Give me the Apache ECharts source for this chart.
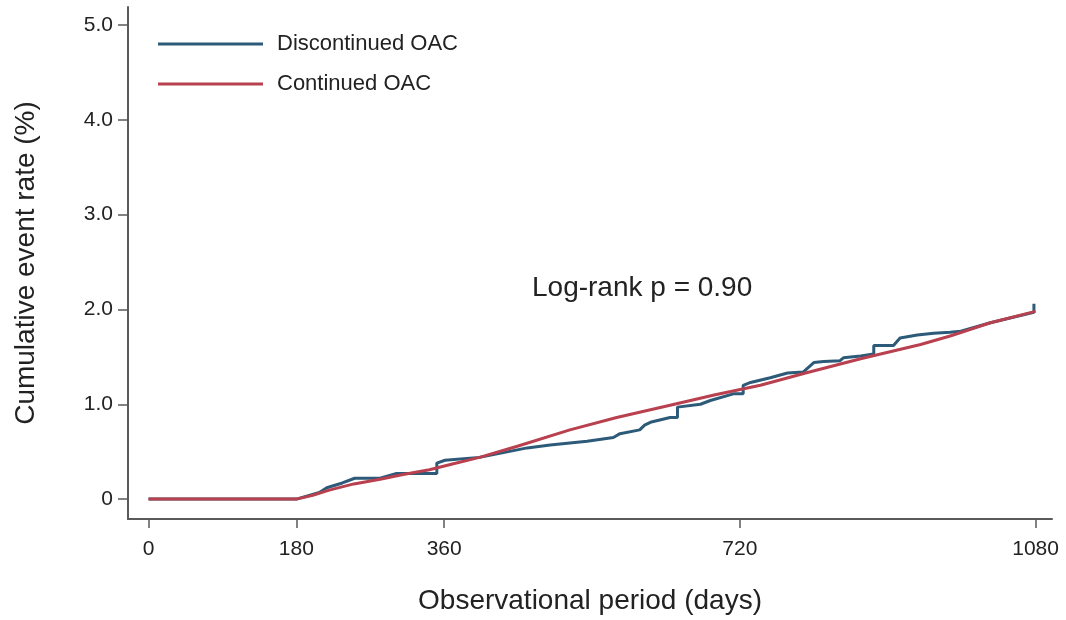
<!DOCTYPE html>
<html>
<head>
<meta charset="utf-8">
<script src="https://cdn.jsdelivr.net/npm/echarts@6/dist/echarts.min.js"></script>
<style>html,body{margin:0;padding:0;background:#fff;}#c{width:1066px;height:620px;}</style>
</head>
<body>
<div id="c"></div>
<script>
// Series names
const seriesNames = ["Discontinued OAC", "Continued OAC"];
// Tick labels
const xTicks = [0, 180, 360, 720, 1080];
const yTicks = [0, 1, 2, 3, 4, 5];
// Discontinued OAC: [day, cumulative event rate %]
const discontinued = [
  [0,0],[180,0],[208,0.07],[217,0.12],[236,0.17],[251,0.22],[282,0.22],[302,0.27],
  [351,0.27],[351,0.38],[361,0.41],[403,0.44],[461,0.54],[489,0.57],[534,0.61],
  [566,0.65],[574,0.69],[598,0.73],[604,0.78],[611,0.81],[635,0.86],[644,0.86],[644,0.97],
  [672,1.00],[684,1.04],[712,1.11],[724,1.11],[724,1.20],[733,1.23],[757,1.28],[778,1.33],
  [797,1.34],[810,1.44],[822,1.45],[842,1.46],[846,1.49],[867,1.51],[883,1.53],[883,1.62],
  [907,1.62],[915,1.70],[936,1.73],[956,1.75],[976,1.76],[989,1.77],[1025,1.86],[1078,1.97],[1078,2.06]
];
// Continued OAC: [day, cumulative event rate %]
const continued = [
  [0,0],[180,0],[200,0.04],[220,0.095],[250,0.16],[282,0.21],[310,0.26],[342,0.31],
  [370,0.37],[403,0.44],[450,0.56],[513,0.73],[570,0.86],[635,0.99],[690,1.10],
  [745,1.20],[800,1.33],[867,1.48],[940,1.63],[976,1.72],[1025,1.86],[1080,1.98]
];
const annotation = "Log-rank p = 0.90";

const axisColor = "#5a5a5a";
const font = "'Liberation Sans', Arial, Helvetica, sans-serif";
const chart = echarts.init(document.getElementById('c'), null, {renderer: 'canvas'});
chart.setOption({
  animation: false,
  backgroundColor: '#ffffff',
  grid: {left: 128, right: 14, top: 7, bottom: 101, containLabel: false},
  legend: {
    orient: 'vertical',
    left: 153, top: 26,
    itemWidth: 105, itemHeight: 3, itemGap: 14,
    icon: 'rect',
    textStyle: {fontFamily: font, fontSize: 22, color: '#222', padding: [0,0,0,9], lineHeight: 26},
    data: seriesNames
  },
  xAxis: {
    type: 'value', min: -25, max: 1100,
    name: 'Observational period (days)', nameLocation: 'middle', nameGap: 68,
    nameTextStyle: {fontFamily: font, fontSize: 28, color: '#222'},
    axisLine: {show: true, onZero: false, lineStyle: {color: axisColor, width: 2}},
    axisTick: {show: true, length: 9, customValues: xTicks, lineStyle: {color: axisColor, width: 1.5}},
    axisLabel: {customValues: xTicks, fontFamily: font, fontSize: 21, color: '#222', margin: 20,
      formatter: v => String(v)},
    splitLine: {show: false}
  },
  yAxis: {
    type: 'value', min: -0.21, max: 5.19,
    name: 'Cumulative event rate (%)', nameLocation: 'middle', nameGap: 88,
    nameTextStyle: {fontFamily: font, fontSize: 28, color: '#222'},
    axisLine: {show: true, onZero: false, lineStyle: {color: axisColor, width: 2}},
    axisTick: {show: true, length: 10, customValues: yTicks, lineStyle: {color: axisColor, width: 1.5}},
    axisLabel: {customValues: yTicks, fontFamily: font, fontSize: 21, color: '#222', margin: 15,
      formatter: v => v === 0 ? '0' : v.toFixed(1)},
    splitLine: {show: false}
  },
  series: [
    {name: seriesNames[0], type: 'line', data: discontinued, symbol: 'none', color: '#2c5a78',
     lineStyle: {width: 3, color: '#2c5a78'}},
    {name: seriesNames[1], type: 'line', data: continued, symbol: 'none', color: '#b8404f',
     lineStyle: {width: 3, color: '#b8404f'}}
  ],
  graphic: [{
    type: 'text', left: 532, top: 274,
    style: {text: annotation, fontFamily: font, fontSize: 28, fill: '#222'}
  }]
});
</script>
</body>
</html>
